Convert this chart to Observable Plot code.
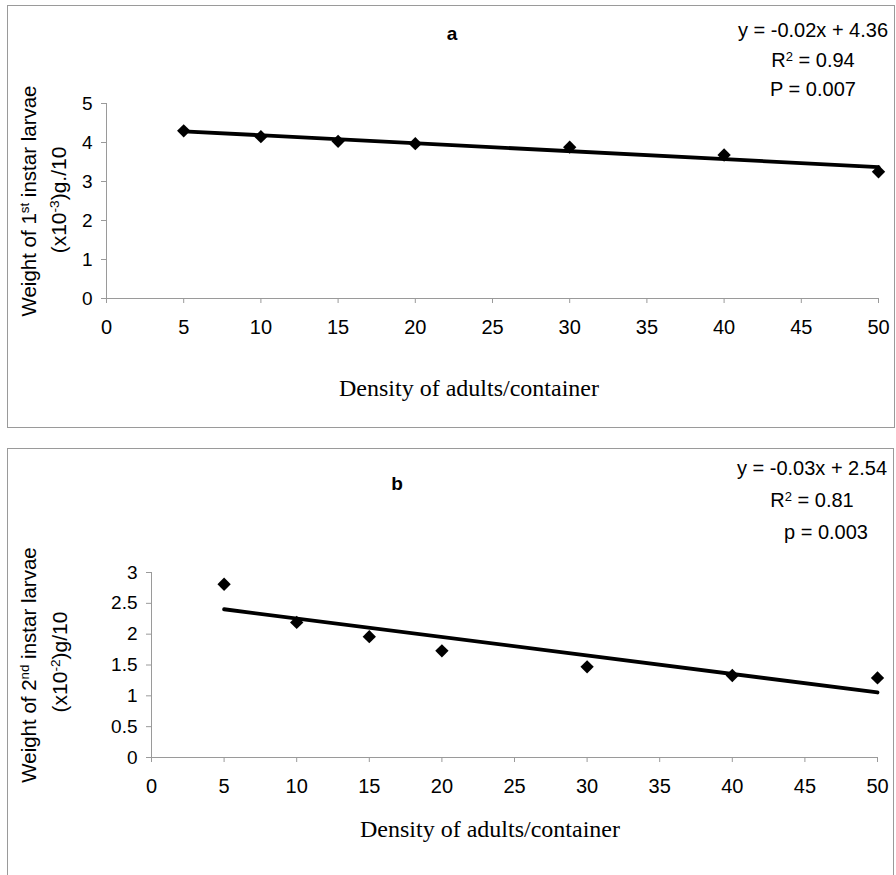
<!DOCTYPE html>
<html>
<head>
<meta charset="utf-8">
<script src="https://cdn.jsdelivr.net/npm/d3@7"></script>
<script src="https://cdn.jsdelivr.net/npm/@observablehq/plot@0.6"></script>
<style>
  html, body { margin: 0; padding: 0; background: #fff; }
  #page { position: relative; width: 896px; height: 875px; overflow: hidden; font-family: "Liberation Sans", Arial, sans-serif; color: #000; }
  .box { position: absolute; border: 1px solid #9a9a9a; box-sizing: border-box; }
  .t { position: absolute; white-space: nowrap; line-height: 1; }
  .c { transform: translate(-50%, -50%); }
  .rot { transform: translate(-50%, -50%) rotate(-90deg); }
  sup { font-size: 0.65em; vertical-align: 0.5em; line-height: 0; }
  .plot { position: absolute; left: 0; }
</style>
</head>
<body>
<div id="page"></div>
<script>
// ---- data ----
const density = [5, 10, 15, 20, 30, 40, 50];
const weight1st = [4.30, 4.15, 4.03, 3.97, 3.88, 3.68, 3.25];
const weight2nd = [2.81, 2.19, 1.96, 1.73, 1.47, 1.33, 1.29];
const xTicks = [0, 5, 10, 15, 20, 25, 30, 35, 40, 45, 50];
const yTicksA = [0, 1, 2, 3, 4, 5];
const yTicksB = [0, 0.5, 1, 1.5, 2, 2.5, 3];
const eqA = ["y = -0.02x + 4.36", "R<sup>2</sup> = 0.94", "P = 0.007"];
const eqB = ["y = -0.03x + 2.54", "R<sup>2</sup> = 0.81", "p = 0.003"];

const dataA = density.map((d, i) => ({x: d, y: weight1st[i]}));
const dataB = density.map((d, i) => ({x: d, y: weight2nd[i]}));

const page = document.getElementById("page");

function addText(html, left, top, cls, style) {
  const d = document.createElement("div");
  d.className = "t " + cls;
  d.innerHTML = html;
  d.style.left = left + "px";
  d.style.top = top + "px";
  Object.assign(d.style, style || {});
  page.appendChild(d);
  return d;
}

function panel({data, yTicks, yMax, top, height, mL, mR, mT, mB}) {
  const chart = Plot.plot({
    width: 896,
    height,
    marginLeft: mL,
    marginRight: mR,
    marginTop: mT,
    marginBottom: mB,
    x: {domain: [0, 50]},
    y: {domain: [0, yMax]},
    style: {fontFamily: "'Liberation Sans', Arial, sans-serif", background: "transparent", color: "#000"},
    marks: [
      Plot.ruleY([0], {stroke: "#9a9a9a", strokeWidth: 1}),
      Plot.ruleX([0], {stroke: "#9a9a9a", strokeWidth: 1}),
      Plot.axisX({ticks: xTicks, tickSize: 5, tickPadding: 16, stroke: "#9a9a9a", fill: "#000", fontSize: 20, label: null, tickFormat: d => String(d)}),
      Plot.axisY({ticks: yTicks, tickSize: 5, tickPadding: 9, stroke: "#9a9a9a", fill: "#000", fontSize: 19, label: null, tickFormat: d => String(d)}),
      Plot.linearRegressionY(data, {x: "x", y: "y", stroke: "#000", strokeWidth: 3.8, ci: 0}),
      Plot.dot(data, {x: "x", y: "y", symbol: "diamond2", r: 6, fill: "#000", stroke: "none"})
    ]
  });
  chart.classList.add("plot");
  chart.style.top = top + "px";
  page.appendChild(chart);
}

// panel boxes
const boxA = document.createElement("div");
boxA.className = "box";
Object.assign(boxA.style, {left: "7px", top: "5px", width: "888px", height: "423px"});
page.appendChild(boxA);
const boxB = document.createElement("div");
boxB.className = "box";
Object.assign(boxB.style, {left: "7px", top: "448px", width: "887px", height: "440px"});
page.appendChild(boxB);

// panel a
panel({data: dataA, yTicks: yTicksA, yMax: 5, top: 0, height: 440, mL: 106, mR: 18, mT: 103, mB: 142});
addText("a", 452, 33, "c", {fontWeight: "bold", fontSize: "19px"});
eqA.forEach((s, i) => addText(s, 813, 30 + i * 29.5, "c", {fontSize: "20px"}));
addText("Weight of 1<sup>st</sup> instar larvae", 29, 201, "rot", {fontSize: "20.5px"});
addText("(x10<sup>-3</sup>)g./10", 58, 200, "rot", {fontSize: "21px"});
addText("Density of adults/container", 469, 388, "c", {fontFamily: "'Liberation Serif', 'Times New Roman', serif", fontSize: "24px"});

// panel b
panel({data: dataB, yTicks: yTicksB, yMax: 3, top: 440, height: 435, mL: 151, mR: 19, mT: 132, mB: 118});
addText("b", 397, 483, "c", {fontWeight: "bold", fontSize: "19px"});
eqB.forEach((s, i) => addText(s, i === 2 ? 826 : 812, 468 + i * 32, "c", {fontSize: "20px"}));
addText("Weight of 2<sup>nd</sup> instar larvae", 29, 665, "rot", {fontSize: "20.5px"});
addText("(x10<sup>-2</sup>)g/10", 59, 662, "rot", {fontSize: "21px"});
addText("Density of adults/container", 490, 829, "c", {fontFamily: "'Liberation Serif', 'Times New Roman', serif", fontSize: "24px"});
</script>
</body>
</html>
